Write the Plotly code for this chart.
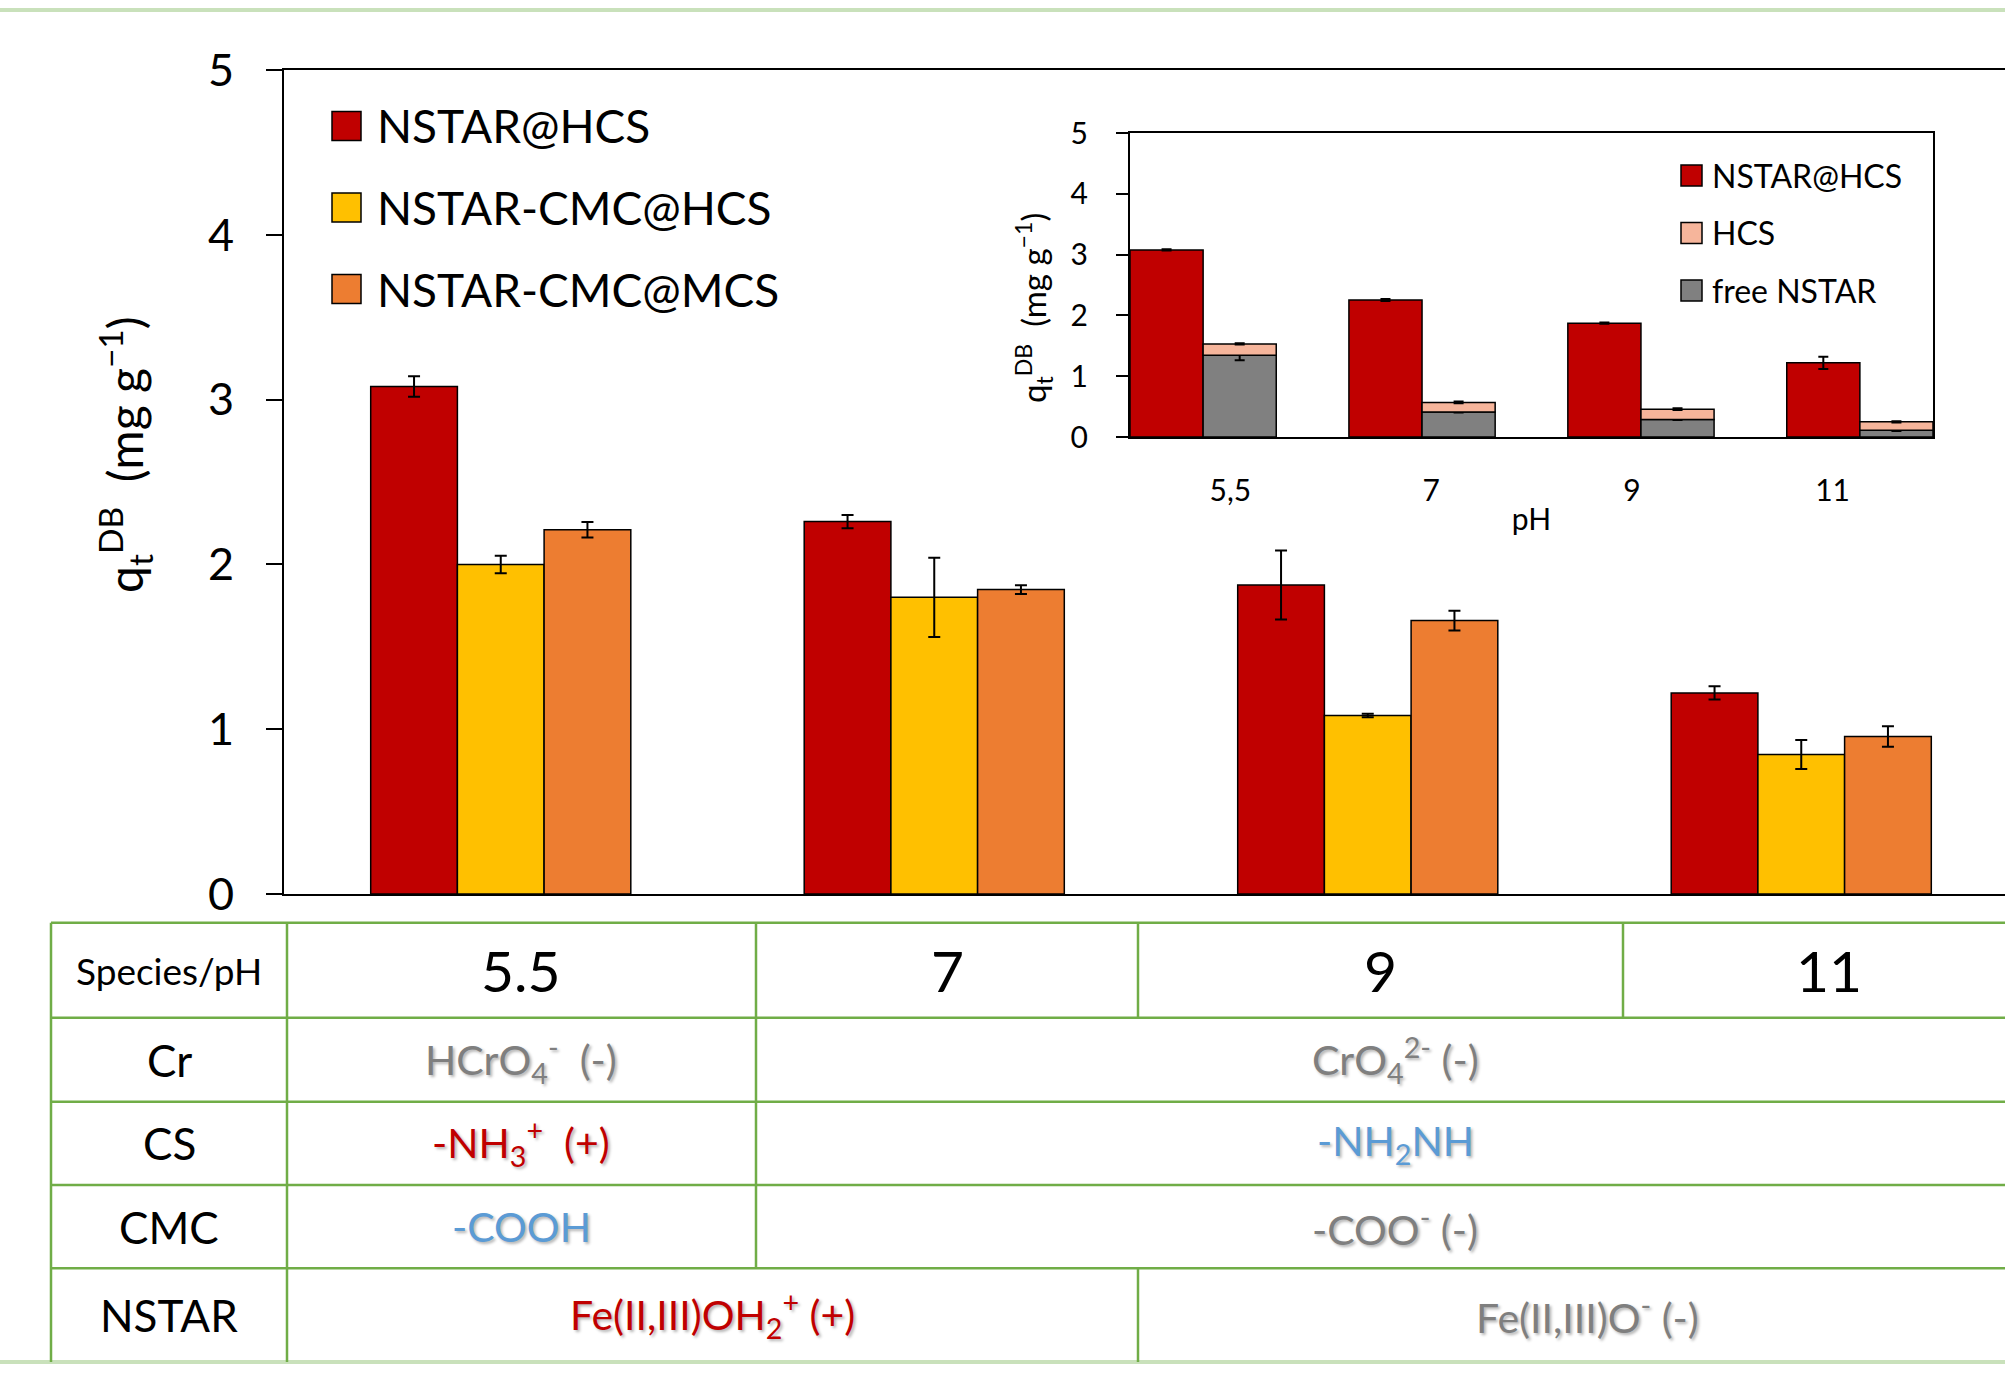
import plotly.graph_objects as go

# ---------------- data ----------------
ph_labels = ["5.5", "7", "9", "11"]
series_names = ["NSTAR@HCS", "NSTAR-CMC@HCS", "NSTAR-CMC@MCS"]
series_colors = ["#C00000", "#FFC000", "#ED7D31"]
nstar_hcs = [3.08, 2.26, 1.875, 1.22]
nstar_hcs_err = [0.062, 0.04, 0.21, 0.04]
nstar_cmc_hcs = [2.00, 1.80, 1.083, 0.846]
nstar_cmc_hcs_err = [0.053, 0.24, 0.01, 0.088]
nstar_cmc_mcs = [2.21, 1.847, 1.659, 0.956]
nstar_cmc_mcs_err = [0.047, 0.027, 0.06, 0.062]

inset_ph = ["5,5", "7", "9", "11"]
inset_names = ["NSTAR@HCS", "HCS", "free NSTAR"]
inset_colors = ["#C00000", "#F6B59B", "#808080"]
inset_nstar_hcs = [3.077, 2.253, 1.872, 1.22]
inset_nstar_hcs_err = [0.01, 0.015, 0.01, 0.10]
inset_free = [1.346, 0.412, 0.288, 0.11]
inset_free_err = [0.083, 0.01, 0.01, 0.01]
inset_hcs = [0.185, 0.157, 0.17, 0.14]
inset_hcs_err = [0.01, 0.015, 0.015, 0.01]

table_header = ["Species/pH", "5.5", "7", "9", "11"]
table_rows = ["Cr", "CS", "CMC", "NSTAR"]
cr_cells = ["HCrO<sub>4</sub><sup>-</sup>  (-)", "CrO<sub>4</sub><sup>2-</sup> (-)"]
cs_cells = ["-NH<sub>3</sub><sup>+</sup>  (+)", "-NH<sub>2</sub>NH"]
cmc_cells = ["-COOH", "-COO<sup>-</sup> (-)"]
nstar_cells = ["Fe(II,III)OH<sub>2</sub><sup>+</sup> (+)", "Fe(II,III)O<sup>-</sup> (-)"]
cr_colors = ["#7F7F7F", "#7F7F7F"]
cs_colors = ["#C00000", "#5B9BD5"]
cmc_colors = ["#5B9BD5", "#7F7F7F"]
nstar_colors = ["#C00000", "#7F7F7F"]

# ---------------- geometry helpers ----------------
W, H = 2005, 1373
L, R, T, B = 284, 0, 70, 479
PW, PH = W - L - R, H - T - B


def px(x):
    return (x - L) / PW


def py(y):
    return (H - B - y) / PH


FONT = "Lato, 'Open Sans', sans-serif"
SHADOW = "2px 2px 3px rgba(0,0,0,0.30)"

fig = go.Figure()

main_series = [
    (nstar_hcs, nstar_hcs_err),
    (nstar_cmc_hcs, nstar_cmc_hcs_err),
    (nstar_cmc_mcs, nstar_cmc_mcs_err),
]
offsets = [-0.3, -0.1, 0.1]
for (vals, errs), name, col, off in zip(main_series, series_names, series_colors, offsets):
    fig.add_trace(go.Bar(
        x=ph_labels, y=vals, name=name, marker_color=col,
        marker_line=dict(color="black", width=1.5),
        width=0.2, offset=off, showlegend=False,
        error_y=dict(type="data", array=errs, color="black", thickness=2, width=6),
        xaxis="x", yaxis="y",
    ))

# inset
fig.add_trace(go.Bar(
    x=inset_ph, y=inset_nstar_hcs, name=inset_names[0], marker_color=inset_colors[0],
    marker_line=dict(color="black", width=1.5), width=0.334, offset=-0.334,
    showlegend=False,
    error_y=dict(type="data", array=inset_nstar_hcs_err, color="black", thickness=2, width=5),
    xaxis="x2", yaxis="y2",
))
fig.add_trace(go.Bar(
    x=inset_ph, y=inset_free, name=inset_names[2], marker_color=inset_colors[2],
    marker_line=dict(color="black", width=1.5), width=0.334, offset=0.0,
    showlegend=False,
    error_y=dict(type="data", array=inset_free_err, color="black", thickness=2, width=5),
    xaxis="x2", yaxis="y2",
))
fig.add_trace(go.Bar(
    x=inset_ph, y=inset_hcs, base=inset_free, name=inset_names[1], marker_color=inset_colors[1],
    marker_line=dict(color="black", width=1.5), width=0.334, offset=0.0,
    showlegend=False,
    error_y=dict(type="data", array=inset_hcs_err, color="black", thickness=2, width=5),
    xaxis="x2", yaxis="y2",
))
# carrier for the inset pH tick labels (invisible points)
fig.add_trace(go.Scatter(
    x=inset_ph, y=inset_nstar_hcs, mode="markers", marker=dict(opacity=0, size=1),
    hoverinfo="skip", showlegend=False, xaxis="x3", yaxis="y2",
))

ix0, ix1 = px(1130), px(1933)
iy0, iy1 = py(437), py(133)

fig.update_layout(
    width=W, height=H,
    margin=dict(l=L, r=R, t=T, b=B, autoexpand=False),
    paper_bgcolor="white", plot_bgcolor="white",
    barmode="overlay",
    font=dict(family=FONT, color="black"),
    xaxis=dict(domain=[0, 1], type="category", range=[-0.5, 3.47],
               showline=True, mirror=True, linecolor="black", linewidth=2,
               ticks="", showticklabels=False, showgrid=False, zeroline=False),
    yaxis=dict(domain=[0, 1], range=[0, 5], dtick=1, showline=True, linecolor="black",
               linewidth=2, ticks="outside", ticklen=16, tickwidth=2, tickcolor="black",
               tickfont=dict(size=45, family=FONT, color="black"), ticklabelstandoff=23,
               showgrid=False, zeroline=False),
    xaxis2=dict(domain=[ix0, ix1], anchor="y2", type="category", range=[-0.334, 3.334],
                showline=True, mirror=True, linecolor="black", linewidth=2,
                ticks="", showticklabels=False, showgrid=False, zeroline=False),
    yaxis2=dict(domain=[iy0, iy1], anchor="x2", range=[0, 5], dtick=1, showline=True,
                mirror=True, linecolor="black", linewidth=2, ticks="outside", ticklen=12,
                tickwidth=2, tickcolor="black",
                tickfont=dict(size=30, family=FONT, color="black"), ticklabelstandoff=22,
                showgrid=False, zeroline=False),
    xaxis3=dict(overlaying="x2", anchor="y2", type="category", range=[-0.5, 3.5],
                showline=False, ticks="", showgrid=False, zeroline=False, side="bottom",
                tickfont=dict(size=30, family=FONT, color="black"), ticklabelstandoff=33,
                title=dict(text="pH", font=dict(size=30, family=FONT, color="black"), standoff=2)),
)

shapes = []
annotations = []

# y titles
annotations.append(dict(
    text="q<sub>t</sub><sup>DB</sup>  (mg g<sup>\u22121</sup>)", xref="paper", yref="paper",
    x=px(125), y=py(455), xanchor="center", yanchor="middle", textangle=-90,
    showarrow=False, font=dict(size=48, family=FONT, color="black")))
annotations.append(dict(
    text="q<sub>t</sub><sup>DB</sup>  (mg g<sup>\u22121</sup>)", xref="paper", yref="paper",
    x=px(1033), y=py(308), xanchor="center", yanchor="middle", textangle=-90,
    showarrow=False, font=dict(size=33, family=FONT, color="black")))

# main legend
for i, (name, col) in enumerate(zip(series_names, series_colors)):
    cy = 126 + i * 81.5
    shapes.append(dict(type="rect", xref="paper", yref="paper",
                       x0=px(332), x1=px(361), y0=py(cy - 14.5), y1=py(cy + 14.5),
                       fillcolor=col, line=dict(color="black", width=1.5)))
    annotations.append(dict(text=name, xref="paper", yref="paper", x=px(375), y=py(cy),
                            xanchor="left", yanchor="middle", showarrow=False,
                            font=dict(size=46, family=FONT, color="black")))

# inset legend
inset_leg_order = [0, 1, 2]
for i, k in enumerate(inset_leg_order):
    cy = 175.5 + i * 57.5
    shapes.append(dict(type="rect", xref="paper", yref="paper",
                       x0=px(1681), x1=px(1702), y0=py(cy - 10.5), y1=py(cy + 10.5),
                       fillcolor=inset_colors[k], line=dict(color="black", width=1.5)))
    annotations.append(dict(text=inset_names[k], xref="paper", yref="paper", x=px(1710), y=py(cy),
                            xanchor="left", yanchor="middle", showarrow=False,
                            font=dict(size=32, family=FONT, color="black")))

# page border lines (light green)
for yline in (10, 1362):
    shapes.append(dict(type="line", xref="paper", yref="paper", x0=px(0), x1=px(W),
                       y0=py(yline), y1=py(yline), line=dict(color="#C9E1BB", width=4)))

# table grid
GREEN = "#70AD47"
row_y = [922.7, 1017.7, 1101.7, 1185, 1268.3, 1362]
XR = 2040
for yl in row_y[:-1]:
    shapes.append(dict(type="line", xref="paper", yref="paper", x0=px(51), x1=px(XR),
                       y0=py(yl), y1=py(yl), line=dict(color=GREEN, width=2.5)))
vlines = [(51, 922.7, 1362), (287, 922.7, 1362), (756, 922.7, 1268.3),
          (1138, 922.7, 1017.7), (1138, 1268.3, 1362), (1623, 922.7, 1017.7)]
for xv, ya, yb in vlines:
    shapes.append(dict(type="line", xref="paper", yref="paper", x0=px(xv), x1=px(xv),
                       y0=py(ya), y1=py(yb), line=dict(color=GREEN, width=2.5)))

row_c = [(row_y[i] + row_y[i + 1]) / 2 for i in range(5)]


def cell(text, x, y, size, color="black", shadow=None):
    f = dict(size=size, family=FONT, color=color)
    if shadow:
        f["shadow"] = shadow
    annotations.append(dict(text=text, xref="paper", yref="paper", x=px(x), y=py(y),
                            xanchor="center", yanchor="middle", showarrow=False, font=f))


# header
cell(table_header[0], 169, row_c[0], 37)
for txt, xc in zip(table_header[1:], [521, 947, 1380, 1829]):
    cell(txt, xc, row_c[0], 57)
# row labels
for i, name in enumerate(table_rows):
    cell(name, 169, row_c[i + 1], 44)
# cells
cell(cr_cells[0], 521, row_c[1], 41, cr_colors[0], SHADOW)
cell(cr_cells[1], 1395, row_c[1], 41, cr_colors[1], SHADOW)
cell(cs_cells[0], 521, row_c[2], 41, cs_colors[0], SHADOW)
cell(cs_cells[1], 1395, row_c[2], 41, cs_colors[1], SHADOW)
cell(cmc_cells[0], 521, row_c[3], 41, cmc_colors[0], SHADOW)
cell(cmc_cells[1], 1395, row_c[3], 41, cmc_colors[1], SHADOW)
cell(nstar_cells[0], 712, row_c[4], 41, nstar_colors[0], SHADOW)
cell(nstar_cells[1], 1587, row_c[4], 41, nstar_colors[1], SHADOW)

fig.update_layout(shapes=shapes, annotations=annotations)
fig.write_html("out.html", config={"displayModeBar": False},
               post_script="document.body.style.margin='0px';")
